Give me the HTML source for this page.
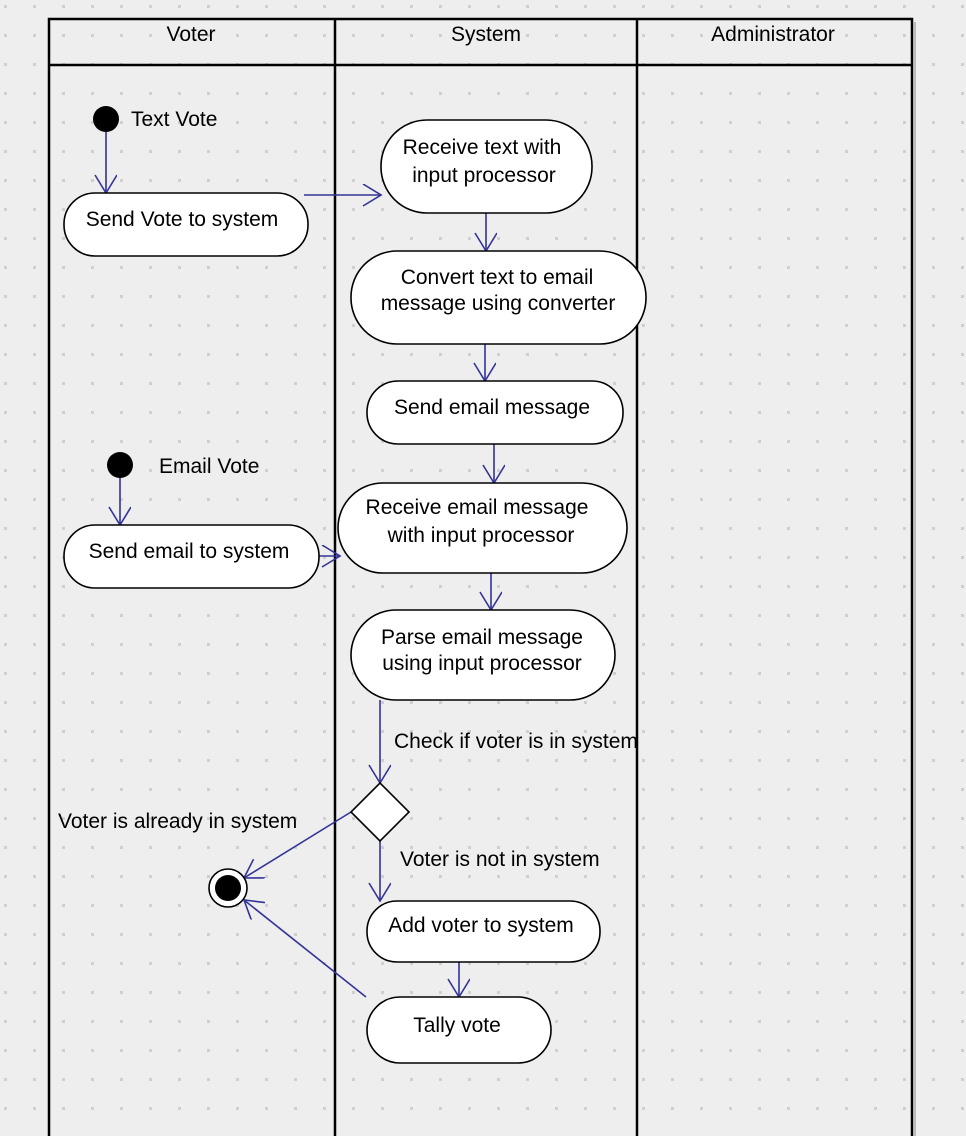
<!DOCTYPE html>
<html><head><meta charset="utf-8"><style>
html,body{margin:0;padding:0;background:#eeeeee;}
svg{display:block;}
text{font-family:"Liberation Sans",sans-serif;font-size:21px;fill:#000;}
</style></head><body>
<svg width="966" height="1136" viewBox="0 0 966 1136" xmlns="http://www.w3.org/2000/svg">
<defs>
<pattern id="g" x="4" y="5" width="29" height="29" patternUnits="userSpaceOnUse">
<rect x="0" y="0" width="3" height="3" fill="#cfcfcf"/>
</pattern>
<marker id="a" markerWidth="30" markerHeight="30" refX="19" refY="11" orient="auto" markerUnits="userSpaceOnUse" viewBox="0 0 30 30">
<path d="M1,0 L19,11 L1,22" fill="none" stroke="#333399" stroke-width="1.6"/>
</marker>
</defs>
<rect width="966" height="1136" fill="#eeeeee"/>
<rect width="966" height="1136" fill="url(#g)"/>
<rect x="49" y="19" width="863" height="1130" fill="none" stroke="#000" stroke-width="2.5"/>
<line x1="49" y1="65" x2="912" y2="65" stroke="#000" stroke-width="2.5"/>
<line x1="335" y1="19" x2="335" y2="1136" stroke="#000" stroke-width="2.5"/>
<line x1="637" y1="19" x2="637" y2="1136" stroke="#000" stroke-width="2.5"/>
<line x1="915" y1="22" x2="915" y2="1136" stroke="#bbb" stroke-width="2"/>
<text x="191" y="41" text-anchor="middle">Voter</text>
<text x="486" y="41" text-anchor="middle">System</text>
<text x="773" y="41" text-anchor="middle">Administrator</text>

<g stroke="#333399" stroke-width="1.6" fill="none" marker-end="url(#a)">
<line x1="106" y1="132" x2="106" y2="193"/>
<line x1="304" y1="195" x2="381" y2="195"/>
<line x1="486" y1="211" x2="486" y2="251"/>
<line x1="485" y1="342" x2="485" y2="381"/>
<line x1="494" y1="442" x2="494" y2="483"/>
<line x1="120" y1="478" x2="120" y2="525"/>
<line x1="318" y1="556" x2="340" y2="556"/>
<line x1="491" y1="572" x2="491" y2="610"/>
<polyline points="380,700 380,783"/>
<line x1="351" y1="812" x2="244" y2="878"/>
<line x1="380" y1="841" x2="380" y2="901"/>
<line x1="459" y1="960" x2="459" y2="997"/>
<line x1="366" y1="997" x2="244" y2="900"/>
</g>

<g fill="#fff" stroke="#000" stroke-width="1.6">
<rect x="64" y="193" width="244" height="63" rx="31"/>
<rect x="381" y="120" width="211" height="93" rx="46"/>
<rect x="351" y="251" width="295" height="93" rx="46"/>
<rect x="367" y="381" width="256" height="63" rx="31"/>
<rect x="64" y="525" width="255" height="63" rx="31"/>
<rect x="338" y="483" width="289" height="90" rx="45"/>
<rect x="351" y="610" width="264" height="90" rx="45"/>
<rect x="367" y="901" width="233" height="61" rx="30"/>
<rect x="367" y="997" width="184" height="66" rx="33"/>
<polygon points="380,783 409,812 380,841 351,812"/>
<circle cx="228" cy="888" r="19"/>
</g>
<circle cx="106" cy="119" r="13" fill="#000"/>
<circle cx="120" cy="465" r="13" fill="#000"/>
<circle cx="228" cy="888" r="13" fill="#000"/>

<text x="131" y="126">Text Vote</text>
<text x="159" y="473">Email Vote</text>
<text x="182" y="226" text-anchor="middle">Send Vote to system</text>
<text x="482" y="154" text-anchor="middle">Receive text with</text>
<text x="484" y="182" text-anchor="middle">input processor</text>
<text x="497" y="284" text-anchor="middle">Convert text to email</text>
<text x="498" y="310" text-anchor="middle">message using converter</text>
<text x="492" y="414" text-anchor="middle">Send email message</text>
<text x="189" y="558" text-anchor="middle">Send email to system</text>
<text x="477" y="514" text-anchor="middle">Receive email message</text>
<text x="481" y="542" text-anchor="middle">with input processor</text>
<text x="482" y="644" text-anchor="middle">Parse email message</text>
<text x="482" y="670" text-anchor="middle">using input processor</text>
<text x="394" y="748">Check if voter is in system</text>
<text x="58" y="828">Voter is already in system</text>
<text x="400" y="866">Voter is not in system</text>
<text x="481" y="932" text-anchor="middle">Add voter to system</text>
<text x="457" y="1032" text-anchor="middle">Tally vote</text>
</svg>
</body></html>
